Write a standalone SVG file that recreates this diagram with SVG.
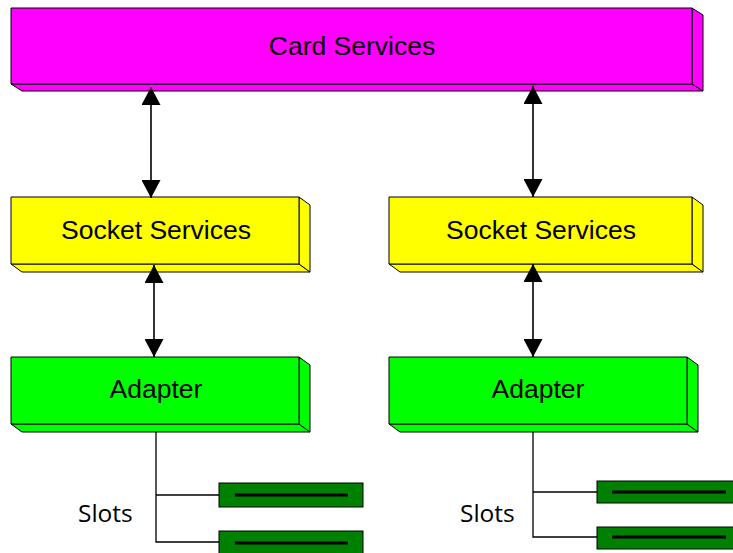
<svg xmlns="http://www.w3.org/2000/svg" width="733" height="553" viewBox="0 0 733 553">
  <defs>
    <style>
      .face { stroke: #000; stroke-width: 1; stroke-linejoin: round; }
      .magenta { fill: #ff00ff; }
      .yellow { fill: #ffff00; }
      .green { fill: #00ff00; }
      .label { font-family: "Liberation Sans", Arial, sans-serif; font-size: 26.5px; fill: #000; text-anchor: middle; }
      .slots { font-family: "Open Sans", "DejaVu Sans", sans-serif; font-size: 24.5px; fill: #000; }
      .link { stroke: #000; stroke-width: 1.6; fill: none; }
      .wire { stroke: #000; stroke-width: 1.3; fill: none; }
      .slot { fill: #008000; stroke: #000; stroke-width: 1; }
      .pin { stroke: #000; stroke-width: 3; }
    </style>
    <marker id="head" viewBox="0 0 18 19" refX="18" refY="9.5" markerWidth="18" markerHeight="19" markerUnits="userSpaceOnUse" orient="auto-start-reverse">
      <path d="M0,0 L18,9.5 L0,19 Z" fill="#000"/>
    </marker>
  </defs>

  <!-- Card Services -->
  <g id="card-services">
    <polygon class="face magenta" points="11,84 692,84 703,91 22,91"/>
    <polygon class="face magenta" points="692,8 703,15 703,91 692,84"/>
    <rect class="face magenta" x="11" y="8" width="681" height="76"/>
    <text class="label" x="352" y="55">Card Services</text>
  </g>

  <!-- Socket Services (left) -->
  <g id="socket-services-left">
    <polygon class="face yellow" points="11,264 299,264 310,272 22,272"/>
    <polygon class="face yellow" points="299,197 310,205 310,272 299,264"/>
    <rect class="face yellow" x="11" y="197" width="288" height="67"/>
    <text class="label" x="156" y="239">Socket Services</text>
  </g>

  <!-- Socket Services (right) -->
  <g id="socket-services-right">
    <polygon class="face yellow" points="389,264 692,264 703,272 400,272"/>
    <polygon class="face yellow" points="692,197 703,205 703,272 692,264"/>
    <rect class="face yellow" x="389" y="197" width="303" height="67"/>
    <text class="label" x="541" y="239">Socket Services</text>
  </g>

  <!-- Adapter (left) -->
  <g id="adapter-left">
    <polygon class="face green" points="11,424 299,424 310,432 22,432"/>
    <polygon class="face green" points="299,357 310,365 310,432 299,424"/>
    <rect class="face green" x="11" y="357" width="288" height="67"/>
    <text class="label" x="156" y="398">Adapter</text>
  </g>

  <!-- Adapter (right) -->
  <g id="adapter-right">
    <polygon class="face green" points="389,424 687,424 698,432 400,432"/>
    <polygon class="face green" points="687,357 698,365 698,432 687,424"/>
    <rect class="face green" x="389" y="357" width="298" height="67"/>
    <text class="label" x="538" y="398">Adapter</text>
  </g>

  <!-- Slots (left) -->
  <g id="slots-left">
    <rect class="slot" x="219" y="483" width="144" height="24"/>
    <line class="pin" x1="235" y1="495" x2="348" y2="495"/>
    <rect class="slot" x="219" y="531" width="144" height="24"/>
    <line class="pin" x1="235" y1="543" x2="348" y2="543"/>
    <text class="slots" x="78" y="522">Slots</text>
  </g>

  <!-- Slots (right) -->
  <g id="slots-right">
    <rect class="slot" x="597" y="481" width="145" height="22"/>
    <line class="pin" x1="612" y1="492" x2="726" y2="492"/>
    <rect class="slot" x="597" y="527" width="145" height="22"/>
    <line class="pin" x1="612" y1="537" x2="726" y2="537"/>
    <text class="slots" x="460" y="522">Slots</text>
  </g>

  <!-- Connectors -->
  <g id="connectors">
    <line class="link" x1="151" y1="87" x2="151" y2="198" marker-start="url(#head)" marker-end="url(#head)"/>
    <line class="link" x1="533" y1="86" x2="533" y2="197" marker-start="url(#head)" marker-end="url(#head)"/>
    <line class="link" x1="154" y1="265" x2="154" y2="357" marker-start="url(#head)" marker-end="url(#head)"/>
    <line class="link" x1="533" y1="264" x2="533" y2="357" marker-start="url(#head)" marker-end="url(#head)"/>
    <polyline class="wire" points="156,432 156,542 219,542"/>
    <line class="wire" x1="156" y1="495" x2="219" y2="495"/>
    <polyline class="wire" points="533,432 533,537 597,537"/>
    <line class="wire" x1="533" y1="492" x2="597" y2="492"/>
  </g>
</svg>
